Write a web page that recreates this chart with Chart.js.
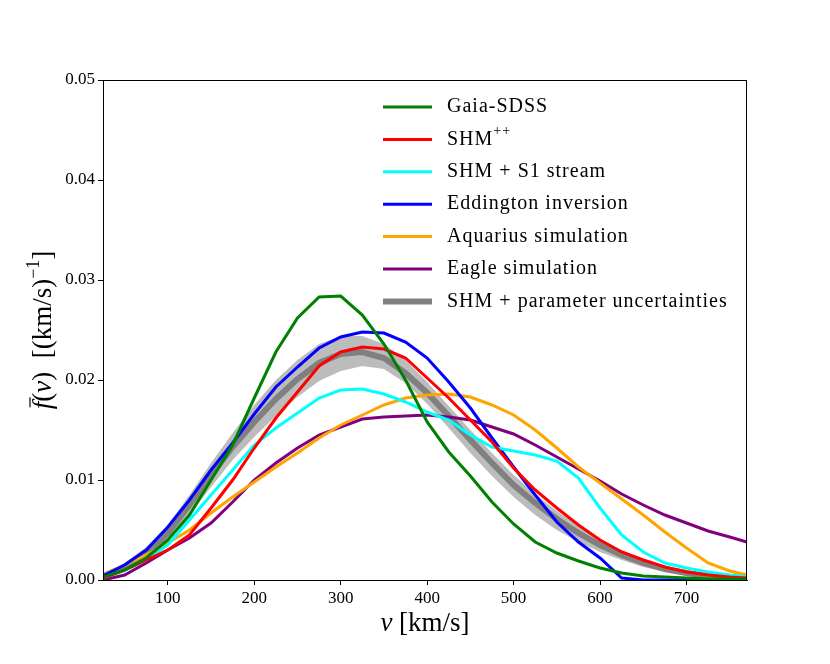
<!DOCTYPE html>
<html>
<head>
<meta charset="utf-8">
<script src="https://cdn.jsdelivr.net/npm/chart.js@4/dist/chart.umd.min.js"></script>
<style>
  html, body { margin: 0; padding: 0; background: #fff; }
  #wrap { width: 830px; height: 664px; }
</style>
</head>
<body>
<div id="wrap"><canvas id="speedChart" width="830" height="664"></canvas></div>
<script>
// speed grid, km/s
const vGrid = [25, 50, 75, 100, 125, 150, 175, 200, 225, 250, 275, 300, 325, 350, 375, 400,
               425, 450, 475, 500, 525, 550, 575, 600, 625, 650, 675, 700, 725, 750, 770];

const gaiaSDSS  = [0.0003, 0.0010, 0.0022, 0.0040, 0.0065, 0.0100, 0.0135, 0.0182, 0.0228, 0.0262, 0.0283, 0.0284, 0.0265, 0.0236, 0.0200, 0.0158,
                   0.0128, 0.0104, 0.0078, 0.0056, 0.0038, 0.0027, 0.0019, 0.0012, 0.0007, 0.0004, 0.0003, 0.0002, 0.0001, 0.0001, 0.0001];
const shmPP     = [0.0002, 0.0010, 0.0020, 0.0030, 0.0045, 0.0072, 0.0100, 0.0132, 0.0162, 0.0188, 0.0214, 0.0228, 0.0233, 0.0231, 0.0222, 0.0202,
                   0.0182, 0.0160, 0.0138, 0.0112, 0.0090, 0.0072, 0.0055, 0.0040, 0.0028, 0.0020, 0.0013, 0.0008, 0.0005, 0.0003, 0.0002];
const shmS1     = [0.0002, 0.0010, 0.0020, 0.0035, 0.0060, 0.0085, 0.0110, 0.0135, 0.0152, 0.0167, 0.0182, 0.0190, 0.0191, 0.0186, 0.0178, 0.0168,
                   0.0160, 0.0145, 0.0133, 0.0129, 0.0125, 0.0119, 0.0102, 0.0072, 0.0045, 0.0028, 0.0017, 0.0012, 0.0008, 0.0005, 0.0003];
const eddington = [0.0004, 0.0015, 0.0030, 0.0053, 0.0080, 0.0110, 0.0137, 0.0166, 0.0193, 0.0213, 0.0232, 0.0243, 0.0248, 0.0247, 0.0238, 0.0222,
                   0.0198, 0.0172, 0.0142, 0.0113, 0.0085, 0.0058, 0.0038, 0.0022, 0.0002, 0.0000, 0.0000, 0.0000, 0.0000, 0.0000, 0.0000];
const aquarius  = [0.0005, 0.0015, 0.0025, 0.0037, 0.0050, 0.0067, 0.0083, 0.0098, 0.0113, 0.0127, 0.0142, 0.0155, 0.0165, 0.0175, 0.0182, 0.0185,
                   0.0186, 0.0183, 0.0175, 0.0165, 0.0150, 0.0132, 0.0113, 0.0097, 0.0081, 0.0065, 0.0048, 0.0032, 0.0017, 0.0009, 0.0005];
const eagle     = [0.0000, 0.0005, 0.0017, 0.0030, 0.0042, 0.0057, 0.0078, 0.0100, 0.0117, 0.0132, 0.0145, 0.0153, 0.0161, 0.0163, 0.0164, 0.0165,
                   0.0163, 0.0160, 0.0153, 0.0146, 0.0135, 0.0123, 0.0111, 0.0099, 0.0086, 0.0075, 0.0065, 0.0057, 0.0049, 0.0043, 0.0038];
const shmCentral = [0.0004, 0.0013, 0.0027, 0.0047, 0.0075, 0.0105, 0.0133, 0.0158, 0.0181, 0.0201, 0.0217, 0.0226, 0.0228, 0.0222, 0.0207, 0.0187,
                    0.0164, 0.0140, 0.0117, 0.0095, 0.0077, 0.0061, 0.0047, 0.0035, 0.0025, 0.0017, 0.0011, 0.0007, 0.0004, 0.0003, 0.0002];
const shmUpper  = [0.0006, 0.0017, 0.0033, 0.0055, 0.0085, 0.0117, 0.0147, 0.0175, 0.0200, 0.0220, 0.0236, 0.0244, 0.0244, 0.0236, 0.0220, 0.0198,
                   0.0174, 0.0150, 0.0127, 0.0105, 0.0086, 0.0069, 0.0054, 0.0041, 0.0030, 0.0021, 0.0014, 0.0009, 0.0006, 0.0004, 0.0003];
const shmLower  = [0.0002, 0.0010, 0.0022, 0.0040, 0.0065, 0.0093, 0.0120, 0.0143, 0.0164, 0.0183, 0.0199, 0.0209, 0.0214, 0.0211, 0.0197, 0.0176,
                   0.0152, 0.0127, 0.0104, 0.0083, 0.0065, 0.0050, 0.0038, 0.0028, 0.0020, 0.0013, 0.0008, 0.0005, 0.0003, 0.0002, 0.0001];

const xTicks = [100, 200, 300, 400, 500, 600, 700];
const yTicks = [0, 0.01, 0.02, 0.03, 0.04, 0.05];
const legendLabels = ['Gaia-SDSS', 'SHM', 'SHM + S1 stream', 'Eddington inversion',
                      'Aquarius simulation', 'Eagle simulation', 'SHM + parameter uncertainties'];
const legendColors = ['#008000', '#ff0000', '#00ffff', '#0000ff', '#ffa500', '#800080', '#808080'];

const SERIF = '"Liberation Serif", "DejaVu Serif", serif';

function pts(ys) {
    return vGrid.map((v, i) => ({ x: v, y: ys[i] }));
}
function line(label, ys, color, width) {
    return {
        label: label,
        data: pts(ys),
        borderColor: color,
        borderWidth: width,
        pointRadius: 0,
        tension: 0,
        fill: false
    };
}

// frame, legend, axis titles
const decorPlugin = {
    id: 'decor',
    afterDraw(chart) {
        const ctx = chart.ctx;
        const a = chart.chartArea;
        ctx.save();
        ctx.strokeStyle = '#000';
        ctx.lineWidth = 1;
        ctx.strokeRect(a.left + 0.5, a.top + 0.5, a.right - a.left - 1, a.bottom - a.top);

        // legend
        ctx.textBaseline = 'middle';
        ctx.textAlign = 'left';
        ctx.letterSpacing = '1px';
        for (let i = 0; i < legendLabels.length; i++) {
            const y = 107 + i * 32.4;
            ctx.strokeStyle = legendColors[i];
            ctx.lineWidth = i === 6 ? 6 : 3;
            ctx.beginPath();
            ctx.moveTo(383, y);
            ctx.lineTo(432, y);
            ctx.stroke();
            ctx.fillStyle = '#000';
            ctx.font = '20px ' + SERIF;
            ctx.fillText(legendLabels[i], 447, y);
            if (i === 1) {
                const w = ctx.measureText(legendLabels[i]).width;
                ctx.font = '14px ' + SERIF;
                ctx.fillText('++', 447 + w, y - 8);
            }
        }
        ctx.letterSpacing = '0px';

        // x title
        ctx.fillStyle = '#000';
        ctx.textBaseline = 'alphabetic';
        const xa = 'v';
        ctx.font = '27px ' + SERIF;
        const xb = ' [km/s]';
        const wb = ctx.measureText(xb).width;
        ctx.font = 'italic 27px ' + SERIF;
        const wa = ctx.measureText(xa).width;
        let x0 = 425 - (wa + wb) / 2;
        ctx.fillText(xa, x0, 631);
        ctx.font = '27px ' + SERIF;
        ctx.fillText(xb, x0 + wa, 631);

        // y title, rotated
        ctx.translate(51, 330);
        ctx.rotate(-Math.PI / 2);
        const parts = [
            ['italic 27px ' + SERIF, 'f', 0],
            ['27px ' + SERIF, '(', 0],
            ['italic 27px ' + SERIF, 'v', 0],
            ['27px ' + SERIF, ')  [(km/s)', 0],
            ['18px ' + SERIF, '\u22121', -12],
            ['27px ' + SERIF, ']', 0]
        ];
        let total = 0;
        parts.forEach(p => { ctx.font = p[0]; total += ctx.measureText(p[1]).width; });
        let cx = -total / 2;
        parts.forEach((p, idx) => {
            ctx.font = p[0];
            ctx.fillText(p[1], cx, p[2]);
            if (idx === 0) {
                ctx.lineWidth = 1.2;
                ctx.strokeStyle = '#000';
                ctx.beginPath();
                ctx.moveTo(cx + 2, -21);
                ctx.lineTo(cx + 12, -21);
                ctx.stroke();
            }
            cx += ctx.measureText(p[1]).width;
        });
        ctx.restore();
    }
};

const ctx = document.getElementById('speedChart').getContext('2d');
new Chart(ctx, {
    type: 'line',
    data: {
        datasets: [
            line('Gaia-SDSS', gaiaSDSS, '#008000', 3),
            line('SHM++', shmPP, '#ff0000', 3),
            line('SHM + S1 stream', shmS1, '#00ffff', 3),
            line('Eddington inversion', eddington, '#0000ff', 3),
            line('Aquarius simulation', aquarius, '#ffa500', 3),
            line('Eagle simulation', eagle, '#800080', 3),
            line('SHM + parameter uncertainties', shmCentral, '#808080', 6),
            {
                label: 'upper',
                data: pts(shmUpper),
                borderWidth: 0,
                borderColor: 'rgba(0,0,0,0)',
                backgroundColor: 'rgba(160,160,160,0.7)',
                pointRadius: 0,
                tension: 0,
                fill: '+1'
            },
            {
                label: 'lower',
                data: pts(shmLower),
                borderWidth: 0,
                borderColor: 'rgba(0,0,0,0)',
                pointRadius: 0,
                tension: 0,
                fill: false
            }
        ]
    },
    options: {
        responsive: false,
        animation: false,
        layout: { padding: { top: 80, right: 83, left: 0, bottom: 0 } },
        plugins: {
            legend: { display: false },
            tooltip: { enabled: false }
        },
        scales: {
            x: {
                type: 'linear',
                min: 25,
                max: 770,
                afterBuildTicks: (s) => { s.ticks = xTicks.map(v => ({ value: v })); },
                afterFit: (s) => { s.height = 84; },
                grid: { drawOnChartArea: false, drawTicks: true, tickLength: 5, color: '#000' },
                border: { display: true, color: '#000' },
                ticks: {
                    color: '#000',
                    font: { family: SERIF, size: 17 },
                    padding: 3,
                    maxRotation: 0
                }
            },
            y: {
                min: 0,
                max: 0.05,
                afterBuildTicks: (s) => { s.ticks = yTicks.map(v => ({ value: v })); },
                afterFit: (s) => { s.width = 103; },
                grid: { drawOnChartArea: false, drawTicks: true, tickLength: 5, color: '#000' },
                border: { display: true, color: '#000' },
                ticks: {
                    color: '#000',
                    font: { family: SERIF, size: 17 },
                    padding: 3,
                    callback: (v) => v.toFixed(2)
                }
            }
        }
    },
    plugins: [decorPlugin]
});
</script>
</body>
</html>
